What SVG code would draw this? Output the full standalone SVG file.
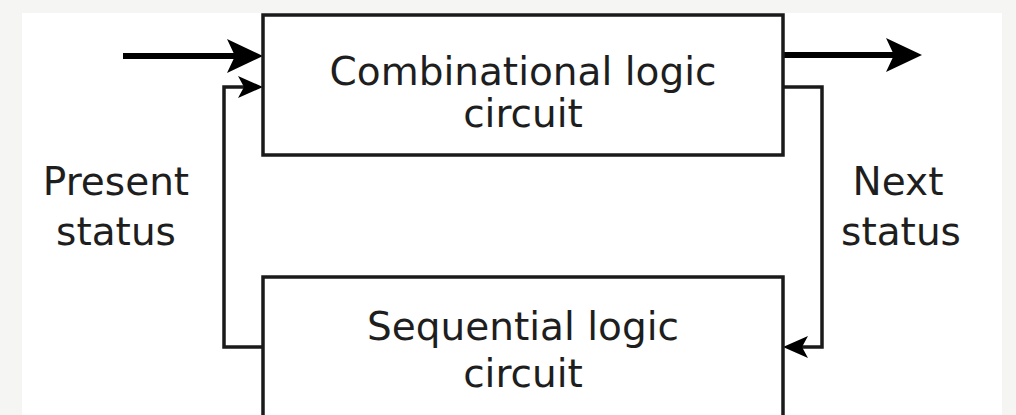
<svg xmlns="http://www.w3.org/2000/svg" width="1016" height="415" viewBox="0 0 1016 415">
  <style>
    .box { fill: #ffffff; stroke: #1a1a1a; stroke-width: 3.5; }
    .lbl { font-family: "DejaVu Sans", Verdana, sans-serif; font-size: 39px; fill: #1e1e1e; text-anchor: middle; }
    .thick { fill: none; stroke: #000; stroke-width: 6; }
    .thin { fill: none; stroke: #1a1a1a; stroke-width: 3.5; }
  </style>
  <defs>
    <marker id="bigArrow" markerUnits="userSpaceOnUse" viewBox="0 -18 37 36" markerWidth="37" markerHeight="36" refX="8" refY="0" orient="auto">
      <path d="M0,-17 L36,0 L0,17 L8,0 Z" fill="#000"/>
    </marker>
    <marker id="smallArrow" markerUnits="userSpaceOnUse" viewBox="0 -12 26 24" markerWidth="26" markerHeight="24" refX="6" refY="0" orient="auto">
      <path d="M0,-11 L25,0 L0,11 L6,0 Z" fill="#000"/>
    </marker>
  </defs>
  <rect x="0" y="0" width="1016" height="415" fill="#f5f5f3"/>
  <rect x="22" y="13" width="980" height="402" fill="#ffffff"/>

  <g id="connectors">
    <path class="thick" d="M123,56 H235" marker-end="url(#bigArrow)"/>
    <path class="thick" d="M783,55 H894" marker-end="url(#bigArrow)"/>
    <path class="thin" d="M263,347 H224 V87 H244" marker-end="url(#smallArrow)"/>
    <path class="thin" d="M783,87 H822 V347 H802" marker-end="url(#smallArrow)"/>
  </g>

  <g id="combinational">
    <rect class="box" x="263" y="15" width="520" height="140"/>
    <text class="lbl" x="523" y="85">Combinational logic</text>
    <text class="lbl" x="523" y="127">circuit</text>
  </g>

  <g id="sequential">
    <rect class="box" x="263" y="277" width="520" height="150"/>
    <text class="lbl" x="523" y="340">Sequential logic</text>
    <text class="lbl" x="523" y="387">circuit</text>
  </g>

  <g id="present-status">
    <text class="lbl" x="116" y="195">Present</text>
    <text class="lbl" x="116" y="245">status</text>
  </g>

  <g id="next-status">
    <text class="lbl" x="898" y="195">Next</text>
    <text class="lbl" x="901" y="245">status</text>
  </g>
</svg>
